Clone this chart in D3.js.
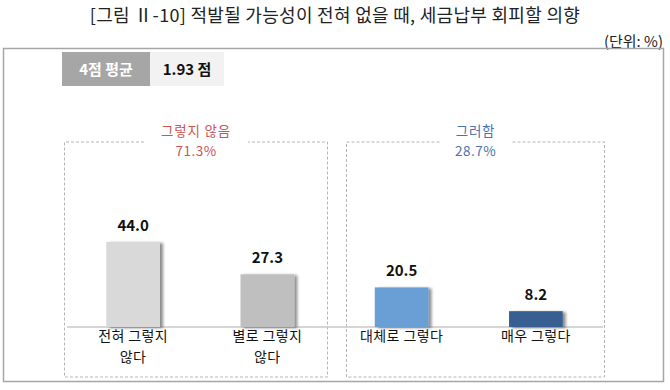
<!DOCTYPE html>
<html>
<head>
<meta charset="utf-8">
<script src="https://cdn.jsdelivr.net/npm/d3@7"></script>
<style>
  body { margin: 0; background: #fff; }
  text { font-family: "Noto Sans CJK KR", "Noto Sans", sans-serif; }
</style>
</head>
<body>
<script>
// data
const categories = ["전혀 그렇지\n않다", "별로 그렇지\n않다", "대체로 그렇다", "매우 그렇다"];
const values = [44.0, 27.3, 20.5, 8.2];
const barColors = ["#d9d9d9", "#bfbfbf", "#6b9fd6", "#385f92"];
const groups = [
    { label: "그렇지 않음", pct: "71.3%", from: 0, to: 1, color: "#cc5555" },
    { label: "그러함", pct: "28.7%", from: 2, to: 3, color: "#4a72ae" }
];
const avgLabel = "4점 평균";
const avgValue = "1.93 점";

let width = 670, height = 390;
let svg = d3.select("body").append("svg")
    .attr("width", width)
    .attr("height", height);

// drop shadow for the bars
let defs = svg.append("defs");
let filter = defs.append("filter").attr("id", "shadow")
    .attr("x", "-20%").attr("y", "-20%").attr("width", "150%").attr("height", "140%");
filter.append("feDropShadow")
    .attr("dx", 3).attr("dy", 1).attr("stdDeviation", 1.5)
    .attr("flood-color", "#000").attr("flood-opacity", 0.45);

// title
svg.append("text")
    .attr("x", width / 2).attr("y", 22)
    .attr("text-anchor", "middle")
    .attr("font-size", 18)
    .attr("letter-spacing", 0.3)
    .attr("fill", "#222")
    .text("[그림 Ⅱ-10] 적발될 가능성이 전혀 없을 때, 세금납부 회피할 의향");

svg.append("text")
    .attr("x", 663).attr("y", 47)
    .attr("text-anchor", "end")
    .attr("font-size", 15)
    .attr("fill", "#222")
    .text("(단위: %)");

// outer frame
svg.append("rect")
    .attr("x", 3.5).attr("y", 48.5)
    .attr("width", 660).attr("height", 333)
    .attr("fill", "none")
    .attr("stroke", "#a6a6a6")
    .attr("stroke-width", 1.5);

// average badge
svg.append("rect").attr("x", 62).attr("y", 52).attr("width", 88).attr("height", 34).attr("fill", "#a6a6a6");
svg.append("rect").attr("x", 150).attr("y", 52).attr("width", 74).attr("height", 34).attr("fill", "#f2f2f2");
svg.append("text").attr("x", 106).attr("y", 74.5).attr("text-anchor", "middle")
    .attr("font-size", 15).attr("font-weight", "bold").attr("fill", "#fff").text(avgLabel);
svg.append("text").attr("x", 187).attr("y", 74.5).attr("text-anchor", "middle")
    .attr("font-size", 15).attr("font-weight", "bold").attr("fill", "#111").text(avgValue);

// scales
let x = d3.scaleBand()
    .domain(d3.range(categories.length))
    .range([66, 603])
    .paddingInner(0.6)
    .paddingOuter(0.3);

let baseY = 327;
let y = d3.scaleLinear()
    .domain([0, 44])
    .range([baseY, 242]);

// dashed group boxes (left / right padding around the outer bars)
let boxTop = 142, boxBottom = 377;
let boxPad = [[42, 33], [29, 41]];
groups.forEach((g, gi) => {
    let left = Math.round(x(g.from) - boxPad[gi][0]) + 0.5;
    let right = Math.round(x(g.to) + x.bandwidth() + boxPad[gi][1]) + 0.5;
    let cx = (left + right) / 2;
    let gap = g.label.length > 4 ? 52 : 36;
    let path = d3.path();
    path.moveTo(cx - gap, boxTop);
    path.lineTo(left, boxTop);
    path.lineTo(left, boxBottom);
    path.lineTo(right, boxBottom);
    path.lineTo(right, boxTop);
    path.lineTo(cx + gap, boxTop);
    svg.append("path")
        .attr("d", path.toString())
        .attr("fill", "none")
        .attr("stroke", "#b5b5b5")
        .attr("stroke-width", 1)
        .attr("stroke-dasharray", "3,2");
    svg.append("text").attr("x", cx).attr("y", 136)
        .attr("text-anchor", "middle").attr("font-size", 13.5)
        .attr("letter-spacing", 0.8)
        .attr("fill", g.color).text(g.label);
    svg.append("text").attr("x", cx).attr("y", 155.5)
        .attr("text-anchor", "middle").attr("font-size", 13.5)
        .attr("letter-spacing", 0.5)
        .attr("fill", g.color).text(g.pct);
});

// baseline
svg.append("line")
    .attr("x1", 67).attr("x2", 603)
    .attr("y1", baseY).attr("y2", baseY)
    .attr("stroke", "#c8c8c8")
    .attr("stroke-width", 1.5);

// bars
svg.selectAll(".bar")
    .data(values)
    .enter().append("rect")
    .attr("class", "bar")
    .attr("x", (d, i) => x(i))
    .attr("y", d => y(d))
    .attr("width", x.bandwidth())
    .attr("height", d => baseY - y(d))
    .attr("fill", (d, i) => barColors[i])
    .attr("filter", "url(#shadow)");

// value labels
svg.selectAll(".val")
    .data(values)
    .enter().append("text")
    .attr("class", "val")
    .attr("x", (d, i) => x(i) + x.bandwidth() / 2)
    .attr("y", d => y(d) - 11)
    .attr("text-anchor", "middle")
    .attr("font-size", 15)
    .attr("font-weight", "bold")
    .attr("fill", "#111")
    .text(d => d.toFixed(1));

// category labels
categories.forEach((c, i) => {
    let t = svg.append("text")
        .attr("x", x(i) + x.bandwidth() / 2)
        .attr("y", 341)
        .attr("text-anchor", "middle")
        .attr("font-size", 14)
        .attr("letter-spacing", 0.4)
        .attr("fill", "#111");
    c.split("\n").forEach((line, j) => {
        t.append("tspan")
            .attr("x", x(i) + x.bandwidth() / 2)
            .attr("dy", j === 0 ? 0 : 20.5)
            .text(line);
    });
});
</script>
</body>
</html>
